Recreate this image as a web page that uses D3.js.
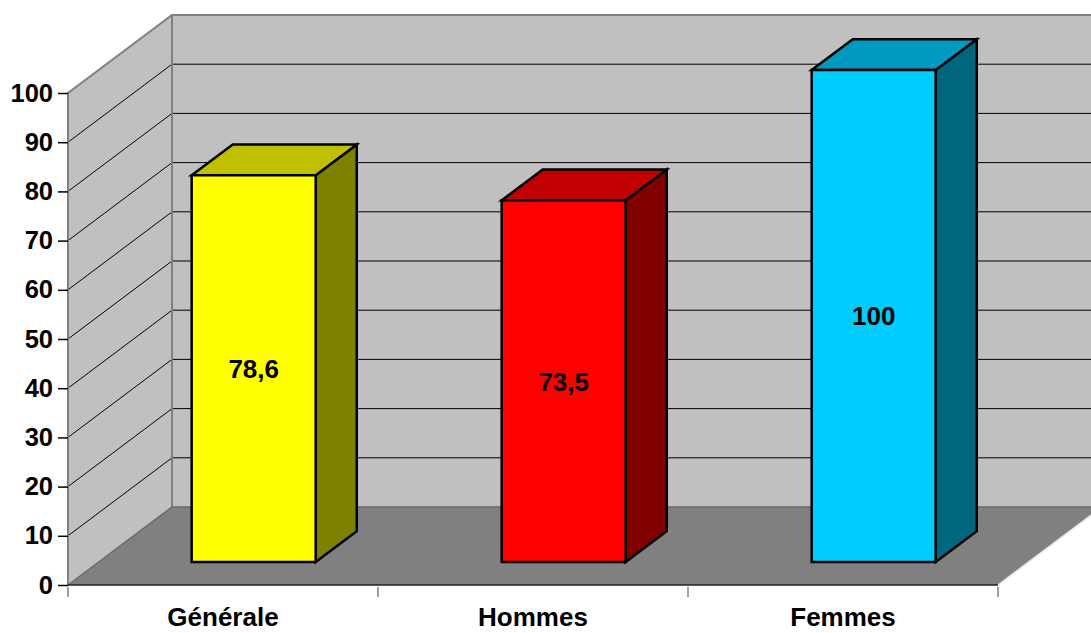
<!DOCTYPE html>
<html lang="fr">
<head>
  <meta charset="UTF-8" />
  <title>Graphique 3D</title>
  <style>
    body { margin: 0; background: #fff; }
    svg { display: block; font-family: 'Liberation Sans', Arial, sans-serif; }
  </style>
</head>
<body>
  <div id="chart"></div>
  <script src="https://d3js.org/d3.v7.min.js"></script>
  <script>
    const categories = ["Générale", "Hommes", "Femmes"];
    const values = [78.6, 73.5, 100];
    const labels = ["78,6", "73,5", "100"];
    const yTicks = [0, 10, 20, 30, 40, 50, 60, 70, 80, 90, 100];
    const fronts = ["#ffff00", "#ff0000", "#00ccff"];
    const tops = ["#c0c000", "#c00000", "#0099c0"];
    const sides = ["#808000", "#800000", "#006680"];

    const width = 1091, height = 633;
    // depth of the 3D box in px
    const DX = 104, DY = -78;
    const barD0 = 0.295, barD1 = 0.69;

    const svg = d3.select("#chart").append("svg")
      .attr("width", width).attr("height", height);

    const x = d3.scaleBand().domain(categories).range([68, 998])
      .paddingInner(0.6).paddingOuter(0.3);
    const y = d3.scaleLinear().domain([0, 100]).range([585, 93]);

    // project point (px, value, depth) to screen
    const P = (px, v, d) => [px + DX * d, y(v) + DY * d];
    const poly = pts => "M" + pts.map(p => p.join(",")).join("L") + "Z";

    const x0 = x.range()[0], x1 = x.range()[1];

    // floor
    svg.append("path")
      .attr("d", poly([P(x0, 0, 0), P(x1, 0, 0), P(x1, 0, 1), P(x0, 0, 1)]))
      .attr("fill", "#808080");
    // left wall
    svg.append("path")
      .attr("d", poly([P(x0, 0, 0), P(x0, 0, 1), P(x0, 100, 1), P(x0, 100, 0)]))
      .attr("fill", "#c0c0c0");
    // back wall
    svg.append("path")
      .attr("d", poly([P(x0, 0, 1), P(x1, 0, 1), P(x1, 100, 1), P(x0, 100, 1)]))
      .attr("fill", "#c0c0c0");

    // gridlines
    const grid = svg.append("g").attr("stroke", "#000").attr("stroke-width", 1);
    yTicks.filter(v => v > 0 && v < 100).forEach(v => {
      const a = P(x0, v, 0), b = P(x0, v, 1), c = P(x1, v, 1);
      grid.append("path").attr("fill", "none")
        .attr("d", `M${a}L${b}L${c}`);
    });

    // wall borders
    const border = svg.append("g").attr("fill", "none").attr("stroke", "#808080").attr("stroke-width", 2);
    border.append("path").attr("d", `M${P(x0, 0, 0)}L${P(x0, 100, 0)}L${P(x0, 100, 1)}L${P(x1, 100, 1)}`);
    border.append("path").attr("d", `M${P(x0, 0, 1)}L${P(x0, 100, 1)}`);
    border.append("path").attr("d", `M${P(x0, 0, 0)}L${P(x0, 0, 1)}L${P(x1, 0, 1)}`)
      .attr("stroke", "#6a6a6a").attr("stroke-width", 1.5);
    // floor front & right edges
    svg.append("path").attr("fill", "none").attr("stroke", "#e8e8e8").attr("stroke-width", 1.5)
      .attr("d", `M${P(x1, 0, 0)}L${P(x1, 0, 1)}`);
    svg.append("path").attr("fill", "none").attr("stroke", "#222").attr("stroke-width", 1.5)
      .attr("d", `M${P(x0, 0, 0)}L${P(x1, 0, 0)}`);

    // bars
    const bars = svg.append("g").attr("stroke", "#000").attr("stroke-width", 2.5)
      .attr("stroke-linejoin", "miter");
    categories.forEach((c, i) => {
      const l = x(c), r = x(c) + x.bandwidth(), v = values[i];
      bars.append("path").attr("fill", sides[i])
        .attr("d", poly([P(r, 0, barD0), P(r, 0, barD1), P(r, v, barD1), P(r, v, barD0)]));
      bars.append("path").attr("fill", tops[i])
        .attr("d", poly([P(l, v, barD0), P(r, v, barD0), P(r, v, barD1), P(l, v, barD1)]));
      bars.append("path").attr("fill", fronts[i])
        .attr("d", poly([P(l, 0, barD0), P(r, 0, barD0), P(r, v, barD0), P(l, v, barD0)]));
      const mid = P((l + r) / 2, v / 2, barD0);
      svg.append("text")
        .attr("x", mid[0]).attr("y", mid[1]).attr("dy", "0.36em")
        .attr("text-anchor", "middle")
        .attr("font-size", 26).attr("font-weight", "bold")
        .text(labels[i]);
    });

    // y axis
    const yAxis = svg.append("g").attr("transform", `translate(${x0},0)`)
      .call(d3.axisLeft(y).tickValues(yTicks).tickSize(10).tickPadding(5));
    yAxis.select(".domain").remove();
    yAxis.selectAll(".tick line").attr("stroke", "#000").attr("stroke-width", 1.5);
    yAxis.selectAll("text").attr("font-size", 25.5).attr("font-weight", "bold")
      .attr("fill", "#000").attr("font-family", "'Liberation Sans', Arial, sans-serif");

    // x axis
    const tickX = d3.range(categories.length + 1).map(i => x0 + i * (x1 - x0) / categories.length);
    svg.append("g").selectAll("line").data(tickX).join("line")
      .attr("x1", d => d).attr("x2", d => d).attr("y1", 587).attr("y2", 597)
      .attr("stroke", "#808080").attr("stroke-width", 1.5);
    svg.append("g").selectAll("text").data(categories).join("text")
      .attr("x", (d, i) => (tickX[i] + tickX[i + 1]) / 2)
      .attr("y", 626)
      .attr("text-anchor", "middle")
      .attr("font-size", 26).attr("font-weight", "bold")
      .text(d => d);
  </script>
</body>
</html>
